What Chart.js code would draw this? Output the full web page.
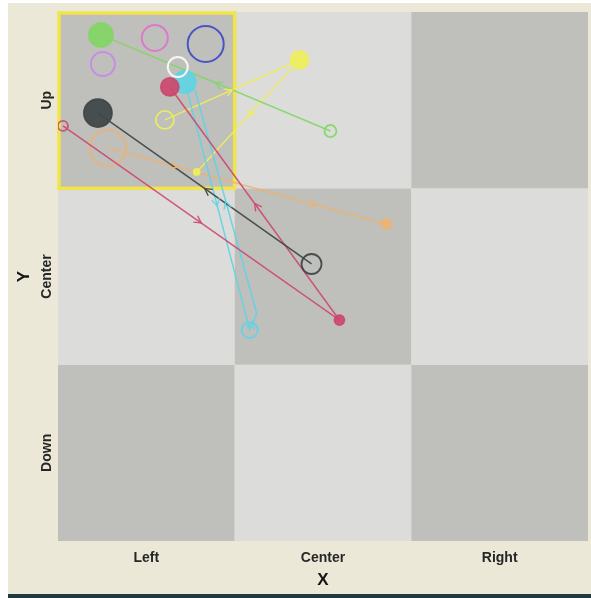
<!DOCTYPE html>
<html lang="en">
<head>
    <meta charset="UTF-8" />
    <title>Trayectorias X / Y</title>
    <script src="https://cdn.jsdelivr.net/npm/chart.js@4.4.0/dist/chart.umd.min.js"></script>
    <style>
        body { margin: 0; background: #fff; }
        #wrap {
            position: absolute; left: 8px; top: 3px;
            width: 583px; height: 591px;
            background: #ebe8d8;
            border-bottom: 4px solid #1f3b3f;
        }
    </style>
</head>
<body>
    <div id="wrap"><canvas id="chart"></canvas></div>

    <script>
        // Ejes (celdas 0..3 en cada dirección)
        const xLabels = ['Left', 'Center', 'Right'];
        const yLabels = ['Down', 'Center', 'Up'];
        const tickVals = [0.5, 1.5, 2.5];

        // Trayectorias: x, y, radio del punto, relleno
        const greenX = [1.542, 0.243];
        const greenY = [2.325, 2.870];
        const greenR = [6, 12];
        const greenFill = [false, true];

        const blackX = [1.435, 0.226];
        const blackY = [1.571, 2.427];
        const blackR = [10, 14];
        const blackFill = [false, true];

        const crimsonX = [0.028, 1.593, 0.633];
        const crimsonY = [2.354, 1.253, 2.575];
        const crimsonR = [5, 5, 9];
        const crimsonFill = [false, true, true];

        const yellowX = [0.605, 1.367, 0.785];
        const yellowY = [2.388, 2.728, 2.093];
        const yellowR = [9, 9, 3];
        const yellowFill = [false, true, true];

        const orangeX = [0.282, 1.068, 1.859];
        const orangeY = [2.229, 2.013, 1.798];
        const orangeR = [18, 0, 5];
        const orangeFill = [false, false, true];

        const cyanX = [0.718, 1.085, 1.125, 0.775];
        const cyanY = [2.603, 1.197, 1.290, 2.560];
        const cyanR = [11, 8, 0, 0];
        const cyanFill = [true, false, false, false];

        // Círculos sueltos
        const pinkX = [0.548], pinkY = [2.853], pinkR = [13];
        const violetX = [0.254], violetY = [2.705], violetR = [12];
        const blueX = [0.836], blueY = [2.819], blueR = [18];
        const whiteX = [0.678], whiteY = [2.688], whiteR = [10];

        const darkCell = '#bfbfbb';
        const lightCell = '#dcdcdb';

        function pts(xs, ys) {
            return xs.map((x, i) => ({ x: x, y: ys[i] }));
        }

        function path(xs, ys, rs, fills, color) {
            return {
                data: pts(xs, ys),
                showLine: true,
                borderColor: color,
                borderWidth: 1.5,
                pointRadius: rs,
                pointBorderColor: color,
                pointBorderWidth: 1.8,
                pointBackgroundColor: fills.map(f => f ? color : 'rgba(0,0,0,0)')
            };
        }

        function ring(xs, ys, rs, color) {
            return {
                data: pts(xs, ys),
                showLine: false,
                pointRadius: rs,
                pointBorderColor: color,
                pointBorderWidth: 2,
                pointBackgroundColor: 'rgba(0,0,0,0)'
            };
        }

        // sin márgenes extra para las etiquetas
        function noPad(s) {
            s.paddingTop = 0;
            s.paddingBottom = 0;
            s.paddingLeft = 0;
            s.paddingRight = 0;
        }

        // Tablero y flechas
        const board = {
            id: 'board',
            beforeDatasetsDraw(chart) {
                const { ctx, scales: { x, y } } = chart;
                ctx.save();
                for (let i = 0; i < 3; i++) {
                    for (let j = 0; j < 3; j++) {
                        const x0 = x.getPixelForValue(i), x1 = x.getPixelForValue(i + 1);
                        const y0 = y.getPixelForValue(j + 1), y1 = y.getPixelForValue(j);
                        ctx.fillStyle = (i + j) % 2 === 0 ? darkCell : lightCell;
                        ctx.fillRect(x0, y0, x1 - x0, y1 - y0);
                    }
                }
                // celda resaltada (Left, Up)
                const hx0 = x.getPixelForValue(0), hx1 = x.getPixelForValue(1);
                const hy0 = y.getPixelForValue(3), hy1 = y.getPixelForValue(2);
                ctx.strokeStyle = '#f1e54a';
                ctx.lineWidth = 3.5;
                ctx.strokeRect(hx0 + 1, hy0 + 1, hx1 - hx0 - 1, hy1 - hy0 - 1);
                ctx.restore();
            },
            afterDatasetsDraw(chart) {
                const ctx = chart.ctx;
                ctx.save();
                chart.data.datasets.forEach((ds, k) => {
                    if (!ds.showLine) return;
                    const p = chart.getDatasetMeta(k).data;
                    ctx.strokeStyle = ds.borderColor;
                    ctx.lineWidth = 1.4;
                    for (let i = 1; i < p.length; i++) {
                        const a = p[i - 1], b = p[i];
                        const mx = (a.x + b.x) / 2, my = (a.y + b.y) / 2;
                        const ang = Math.atan2(b.y - a.y, b.x - a.x);
                        ctx.beginPath();
                        ctx.moveTo(mx - 8 * Math.cos(ang - 0.5), my - 8 * Math.sin(ang - 0.5));
                        ctx.lineTo(mx, my);
                        ctx.lineTo(mx - 8 * Math.cos(ang + 0.5), my - 8 * Math.sin(ang + 0.5));
                        ctx.stroke();
                    }
                });
                ctx.restore();
            }
        };

        const tickFont = { family: "'Liberation Sans', Arial, sans-serif", size: 14, weight: 'bold' };
        const titleFont = { family: "'Liberation Sans', Arial, sans-serif", size: 17, weight: 'bold' };

        const ctx = document.getElementById('chart').getContext('2d');
        const chart = new Chart(ctx, {
            type: 'scatter',
            data: {
                datasets: [
                    path(blackX, blackY, blackR, blackFill, 'rgba(64,72,74,0.95)'),
                    path(crimsonX, crimsonY, crimsonR, crimsonFill, 'rgba(205,70,110,0.9)'),
                    ring(whiteX, whiteY, whiteR, '#f6f6f4'),
                    path(cyanX, cyanY, cyanR, cyanFill, 'rgba(95,212,228,0.9)'),
                    path(greenX, greenY, greenR, greenFill, 'rgba(130,214,100,0.9)'),
                    path(yellowX, yellowY, yellowR, yellowFill, 'rgba(240,238,90,0.9)'),
                    path(orangeX, orangeY, orangeR, orangeFill, 'rgba(240,178,110,0.85)'),
                    ring(blueX, blueY, blueR, '#4a55c4'),
                    ring(pinkX, pinkY, pinkR, '#de78cc'),
                    ring(violetX, violetY, violetR, '#c88ee0')
                ]
            },
            options: {
                responsive: true,
                maintainAspectRatio: false,
                animation: false,
                events: [],
                layout: { autoPadding: false, padding: { top: 9, right: 3, bottom: 0, left: 0 } },
                plugins: {
                    legend: { display: false },
                    tooltip: { enabled: false }
                },
                scales: {
                    x: {
                        type: 'linear',
                        min: 0,
                        max: 3,
                        grid: { display: false, drawTicks: false },
                        border: { display: false },
                        afterBuildTicks: s => { s.ticks = tickVals.map(v => ({ value: v })); },
                        afterFit: s => { s.height = 53; noPad(s); },
                        ticks: {
                            padding: 9,
                            color: '#262626',
                            font: tickFont,
                            maxRotation: 0,
                            callback: (v, i) => xLabels[i]
                        },
                        title: {
                            display: true,
                            text: 'X',
                            color: '#151515',
                            font: titleFont,
                            padding: { top: 0, bottom: 3 }
                        }
                    },
                    y: {
                        type: 'linear',
                        min: 0,
                        max: 3,
                        grid: { display: false, drawTicks: false },
                        border: { display: false },
                        afterBuildTicks: s => { s.ticks = tickVals.map(v => ({ value: v })); },
                        afterFit: s => { s.width = 50; noPad(s); },
                        ticks: {
                            padding: -11,
                            minRotation: 90,
                            maxRotation: 90,
                            crossAlign: 'center',
                            color: '#262626',
                            font: tickFont,
                            callback: (v, i) => yLabels[i]
                        },
                        title: {
                            display: true,
                            text: 'Y',
                            color: '#151515',
                            font: titleFont,
                            padding: { top: 6, bottom: 0 }
                        }
                    }
                }
            },
            plugins: [board]
        });
    </script>
</body>
</html>
